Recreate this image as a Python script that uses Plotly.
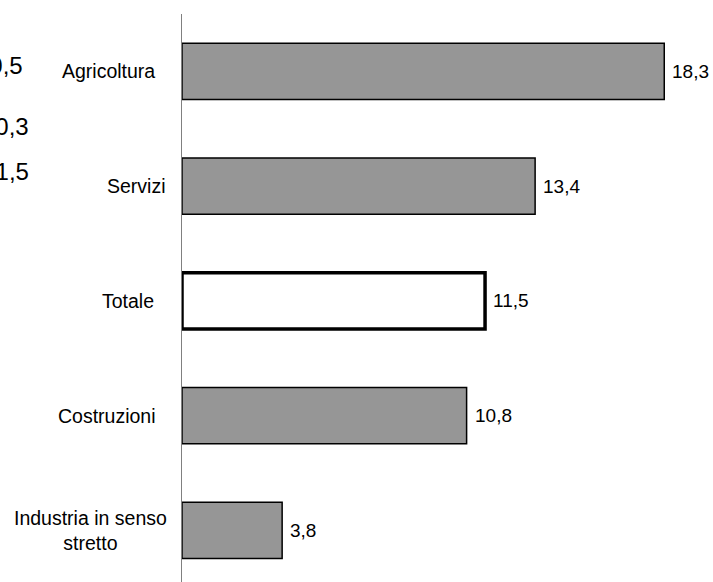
import plotly.graph_objects as go

categories = ["Agricoltura", "Servizi", "Totale", "Costruzioni", "Industria in senso<br>stretto"]
values = [18.3, 13.4, 11.5, 10.8, 3.8]
value_labels = ["18,3", "13,4", "11,5", "10,8", "3,8"]
# partially visible numbers at the left edge (cut off in the original)
edge_labels = ["10,5", "10,3", "11,5"]

W, H = 713, 582
L, T = 182, 14
PW = W - L

fills = ["#969696" if c != "Totale" else "#ffffff" for c in categories]
line_w = [1.5 if c != "Totale" else 3.5 for c in categories]

fig = go.Figure()
fig.add_trace(go.Bar(
    y=categories, x=values, orientation="h",
    marker=dict(color=fills, line=dict(color="#000000", width=line_w)),
    width=0.49, hoverinfo="skip",
))

annotations = []
FONT = "Liberation Sans, Arial, sans-serif"
for c, v, t in zip(categories, values, value_labels):
    annotations.append(dict(x=v, y=c, xref="x", yref="y", text=t, showarrow=False,
                            xanchor="left", yanchor="middle", xshift=6,
                            font=dict(family=FONT, size=19, color="#000000")))

# category labels (right edges in pixels)
label_right = [157, 168, 156, 158, 169]
for c, r in zip(categories, label_right):
    annotations.append(dict(x=(r - L) / PW, y=c, xref="paper", yref="y", text=c,
                            showarrow=False, xanchor="right", yanchor="middle", align="center",
                            font=dict(family=FONT, size=19.5, color="#000000")))

# cut-off numbers at the left edge
edge_pos = [(25, 65.5), (31, 126.5), (31, 171.5)]
for t, (px, py) in zip(edge_labels, edge_pos):
    annotations.append(dict(x=(px - L) / PW, y=1 - (py - T) / (H - T), xref="paper", yref="paper",
                            text=t, showarrow=False, xanchor="right", yanchor="middle",
                            font=dict(family=FONT, size=24, color="#000000")))

fig.update_layout(
    width=W, height=H,
    margin=dict(l=L, r=0, t=T, b=0, pad=0),
    paper_bgcolor="#ffffff", plot_bgcolor="#ffffff",
    showlegend=False,
    xaxis=dict(range=[0, 20.15], showgrid=False, zeroline=False, showticklabels=False,
               showline=False, ticks=""),
    yaxis=dict(type="category", categoryorder="array", categoryarray=categories,
               range=[4.45, -0.5], showgrid=False, zeroline=False, showticklabels=False,
               showline=True, linecolor="#808080", linewidth=1, ticks=""),
    annotations=annotations,
)

fig.write_html("out.html", config={"displayModeBar": False},
               post_script="document.body.style.margin='0';document.body.style.overflow='hidden';")
